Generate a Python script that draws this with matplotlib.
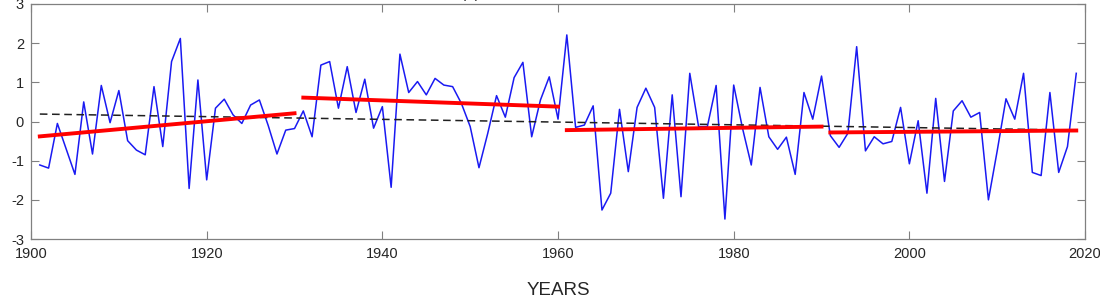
import numpy as np
import matplotlib
matplotlib.use("Agg")
import matplotlib.pyplot as plt

plt.rcParams['font.family'] = ['Liberation Sans', 'DejaVu Sans']
plt.rcParams['axes.unicode_minus'] = False

# yearly values 1901-2019
years = list(range(1901, 2020))
values = [
    -1.11, -1.19, -0.05, -0.70, -1.35, 0.50, -0.83, 0.92, -0.03, 0.79,
    -0.49, -0.73, -0.85, 0.89, -0.64, 1.53, 2.12, -1.71, 1.06, -1.49,
    0.34, 0.57, 0.17, -0.05, 0.42, 0.55, -0.10, -0.83, -0.22, -0.18,
    0.27, -0.39, 1.44, 1.53, 0.34, 1.40, 0.23, 1.08, -0.17, 0.38,
    -1.68, 1.72, 0.74, 1.02, 0.68, 1.10, 0.93, 0.89, 0.46, -0.13,
    -1.18, -0.30, 0.66, 0.11, 1.12, 1.51, -0.39, 0.55, 1.14, 0.06,
    2.21, -0.15, -0.09, 0.40, -2.26, -1.83, 0.31, -1.28, 0.36, 0.85,
    0.36, -1.96, 0.68, -1.92, 1.23, -0.13, -0.13, 0.92, -2.49, 0.93,
    -0.17, -1.11, 0.87, -0.39, -0.71, -0.40, -1.35, 0.74, 0.06, 1.16,
    -0.36, -0.66, -0.30, 1.91, -0.75, -0.39, -0.57, -0.51, 0.36, -1.08,
    0.02, -1.83, 0.59, -1.53, 0.27, 0.53, 0.11, 0.23, -2.00, -0.75,
    0.58, 0.06, 1.23, -1.30, -1.38, 0.74, -1.30, -0.64, 1.23,
]

# 30-year period trends (start year, end year, start value, end value)
seg_start = [1901, 1931, 1961, 1991]
seg_end = [1930, 1960, 1990, 2019]
seg_v0 = [-0.38, 0.61, -0.22, -0.28]
seg_v1 = [0.21, 0.38, -0.13, -0.23]

# whole-period trend
trend_years = [1901, 2019]
trend_vals = [0.19, -0.22]

fig = plt.figure(figsize=(11, 3), dpi=100)
ax = fig.add_axes([0.0282, 0.2033, 0.9582, 0.7834])

ax.plot(years, values, color=(0.1, 0.1, 0.95), lw=1.1)
ax.plot(trend_years, trend_vals, color='#202020', lw=1.1, ls=(0, (5, 3)))
for i in range(len(seg_start)):
    ax.plot([seg_start[i], seg_end[i]], [seg_v0[i], seg_v1[i]], color='red', lw=2.8)

ax.set_xlim(1900, 2020)
ax.set_ylim(-3, 3)
ax.set_xticks(range(1900, 2021, 20))
ax.set_yticks(range(-3, 4))
ax.tick_params(direction='in', length=6, width=0.8, top=True, right=True,
               colors='#808080', labelcolor='#262626', labelsize=10.5)
ax.tick_params(axis='x', pad=6)
ax.tick_params(axis='y', pad=5)
for s in ax.spines.values():
    s.set_color('#808080')
    s.set_linewidth(0.9)

ax.set_xlabel('YEARS', fontsize=13.5, color='#262626', labelpad=15)
fig.text(0.428, 0.997, '(a)', fontsize=11, color='#262626', ha='center', va='bottom')

fig.savefig('out.png', dpi=100)
